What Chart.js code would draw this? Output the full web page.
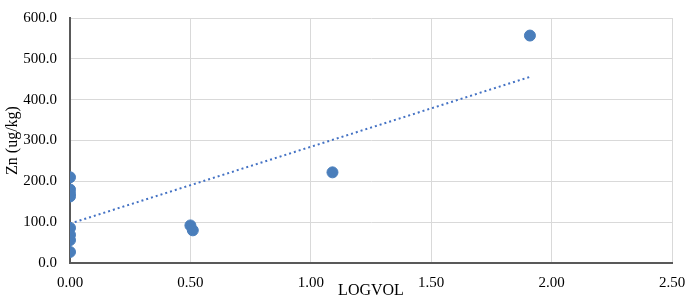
<!DOCTYPE html>
<html>
<head>
<meta charset="utf-8">
<script src="https://cdn.jsdelivr.net/npm/chart.js@4"></script>
<style>
html,body{margin:0;padding:0;background:#fff}
#chart{display:block}
</style>
</head>
<body>
<canvas id="chart" width="691" height="302"></canvas>
<script>
// LOGVOL vs Zn
const logvol=[0,0,0,0,0,0,0,0,0.50,0.51,1.09,1.91];
const zn=[210,180,170,163,86,69,56,27,92,80,222,557];
const xTicks=[0,0.5,1,1.5,2,2.5];
const yTicks=[0,100,200,300,400,500,600];

// linear trendline (least squares) like the spreadsheet one
function fitLine(xs,ys){
let n=xs.length,mx=0,my=0;
for(let i=0;i<n;i++){mx+=xs[i];my+=ys[i];}
mx/=n;my/=n;
let sxy=0,sxx=0;
for(let i=0;i<n;i++){sxy+=(xs[i]-mx)*(ys[i]-my);sxx+=(xs[i]-mx)**2;}
let b=sxy/sxx;
return {a:my-b*mx,b};
}
const fit=fitLine(logvol,zn);
const xMin=Math.min(...logvol),xMax=Math.max(...logvol);
const trend=[{x:xMin,y:fit.a+fit.b*xMin},{x:xMax,y:fit.a+fit.b*xMax}];

const blue="#4a7ebb";
const font={family:"'Liberation Serif','Times New Roman',serif",size:15};

const ctx=document.getElementById("chart").getContext("2d");
new Chart(ctx,{
type:"scatter",
data:{datasets:[
{data:logvol.map((x,i)=>({x,y:zn[i]})),backgroundColor:blue,borderColor:blue,pointRadius:5.5,pointHoverRadius:5.5,order:1},
{type:"line",data:trend,borderColor:"#4472c4",borderWidth:2,borderDash:[2,3],pointRadius:0,fill:false,order:2}
]},
options:{
responsive:false,animation:false,
layout:{padding:{top:18,right:19,left:0,bottom:0}},
plugins:{legend:{display:false},tooltip:{enabled:false}},
scales:{
x:{type:"linear",min:0,max:2.5,
afterBuildTicks:s=>{s.ticks=xTicks.map(v=>({value:v}))},
afterFit:s=>{s.height=39;s.paddingLeft=0;s.paddingRight=0},
grid:{color:"#d9d9d9",drawTicks:false},
border:{color:"#595959",width:2},
ticks:{font,color:"#000",padding:11,callback:v=>(+v).toFixed(2)},
title:{display:true,text:"LOGVOL",font:{family:font.family,size:16},color:"#000",padding:{top:0,bottom:2}}
},
y:{min:0,max:600,
afterBuildTicks:s=>{s.ticks=yTicks.map(v=>({value:v}))},
afterFit:s=>{s.width=70;s.paddingTop=0;s.paddingBottom=0},
grid:{color:"#d9d9d9",drawTicks:false},
border:{color:"#595959",width:2},
ticks:{font,color:"#000",padding:13,callback:v=>(+v).toFixed(1)},
title:{display:true,text:"Zn (ug/kg)",font:{family:font.family,size:16},color:"#000",padding:{top:3,bottom:0}}
}
}
}
});
</script>
</body>
</html>
